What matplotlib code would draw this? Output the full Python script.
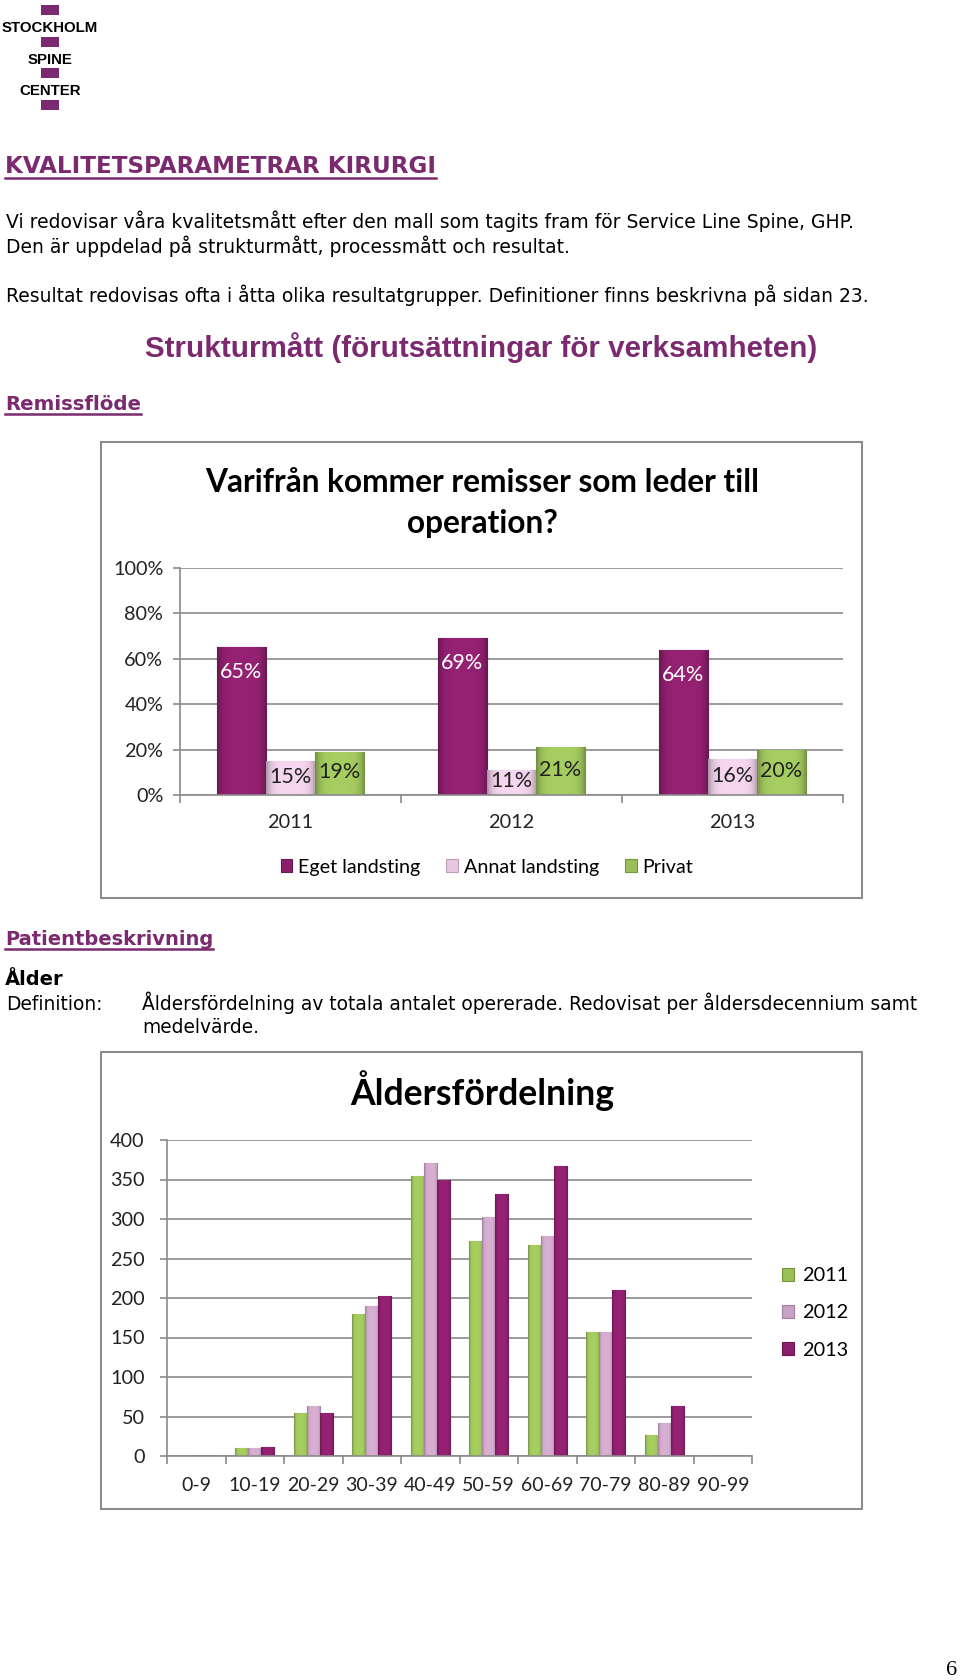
import matplotlib
matplotlib.use("Agg")
import matplotlib.pyplot as plt
from matplotlib.patches import Rectangle
from matplotlib.lines import Line2D
from matplotlib.colors import to_rgb
import numpy as np

W, H = 960, 1680

# chart 1: referral source
years = ["2011", "2012", "2013"]
eget = [65, 69, 64]
annat = [15, 11, 16]
privat = [19, 21, 20]
pct_ticks = [0, 20, 40, 60, 80, 100]

# chart 2: age distribution
age_groups = ["0-9", "10-19", "20-29", "30-39", "40-49", "50-59",
              "60-69", "70-79", "80-89", "90-99"]
age_2011 = [0, 10, 54, 180, 354, 272, 267, 157, 27, 0]
age_2012 = [0, 10, 63, 190, 371, 303, 278, 157, 42, 0]
age_2013 = [0, 12, 54, 203, 349, 332, 367, 210, 63, 0]
count_ticks = [0, 50, 100, 150, 200, 250, 300, 350, 400]

PURPLE = "#7b2a70"
C_EGET = "#8c1f6c"
C_ANNAT = "#e6c8e0"
C_PRIV = "#9bc05a"
C_2012 = "#c9a3c3"
GRID = "#8a8a8a"
CH = ["Lato", "DejaVu Sans"]

plt.rcParams["font.family"] = ["DejaVu Sans"]

fig = plt.figure(figsize=(W / 100, H / 100), dpi=100)
fig.patch.set_facecolor("white")


def fx(x):
    return x / W


def fy(y):
    return 1 - y / H


def txt(x, y, s, **kw):
    kw.setdefault("va", "baseline")
    return fig.text(fx(x), fy(y), s, **kw)


def underline(t, y, color):
    r = fig.canvas.get_renderer()
    bb = t.get_window_extent(r)
    fig.add_artist(Line2D([bb.x0 / W, bb.x1 / W], [fy(y), fy(y)],
                          transform=fig.transFigure, color=color, lw=1.8))


def shade(ax, bars, color):
    # soft cylinder-like shading, darker toward the bar edges
    t = np.linspace(-1, 1, 40)
    f = 1.07 - 0.32 * np.abs(t) ** 5
    img = np.clip(np.array(to_rgb(color))[None, None, :] * f[None, :, None], 0, 1)
    for b in bars:
        h = b.get_height()
        if h <= 0:
            continue
        x0 = b.get_x()
        im = ax.imshow(img, extent=[x0, x0 + b.get_width(), 0, h],
                       aspect="auto", zorder=2.1, interpolation="bilinear")
        im.set_clip_path(b)


# logo
for y0 in [5, 37, 68, 100]:
    fig.add_artist(Rectangle((fx(41), fy(y0 + 10)), 18 / W, 10 / H,
                             transform=fig.transFigure, color=PURPLE, lw=0))
for s, yb in [("STOCKHOLM", 32), ("SPINE", 64), ("CENTER", 95)]:
    txt(50, yb, s, ha="center", fontsize=10.8, fontweight="bold",
        family=["Liberation Sans"])

# page text
t = txt(5, 173, "KVALITETSPARAMETRAR KIRURGI", fontsize=16.6,
        fontweight="bold", color=PURPLE)
underline(t, 178, PURPLE)
txt(6, 228, "Vi redovisar våra kvalitetsmått efter den mall som tagits fram för Service Line Spine, GHP.", fontsize=13.5)
txt(6, 253, "Den är uppdelad på strukturmått, processmått och resultat.", fontsize=13.5)
txt(6, 302, "Resultat redovisas ofta i åtta olika resultatgrupper. Definitioner finns beskrivna på sidan 23.", fontsize=13.5)
txt(481, 357, "Strukturmått (förutsättningar för verksamheten)", ha="center",
    fontsize=21.3, fontweight="bold", color=PURPLE, family=["Liberation Sans"])
t = txt(5, 410, "Remissflöde", fontsize=14.2, fontweight="bold", color=PURPLE)
underline(t, 414, PURPLE)
t = txt(5, 945, "Patientbeskrivning", fontsize=14, fontweight="bold", color=PURPLE)
underline(t, 949, PURPLE)
txt(5, 985, "Ålder", fontsize=14, fontweight="bold")
txt(6, 1010, "Definition:", fontsize=13.4)
txt(142, 1010, "Åldersfördelning av totala antalet opererade. Redovisat per åldersdecennium samt", fontsize=13.4)
txt(142, 1033, "medelvärde.", fontsize=13.4)
txt(946, 1675, "6", fontsize=16, family=["Liberation Serif"])

# chart frames
for top, bot in [(442, 898), (1052, 1509)]:
    fig.add_artist(Rectangle((fx(101), fy(bot)), 761 / W, (bot - top) / H,
                             transform=fig.transFigure, fill=False,
                             edgecolor="#8c8c8c", lw=1.5))


def style_axes(ax, size):
    for side in ["top", "right"]:
        ax.spines[side].set_visible(False)
    for side in ["left", "bottom"]:
        ax.spines[side].set_color(GRID)
        ax.spines[side].set_linewidth(1.2)
    ax.yaxis.grid(True, color=GRID, lw=1.2)
    ax.set_axisbelow(True)
    ax.tick_params(axis="y", colors=GRID, labelcolor="#222222", length=5,
                   width=1.2, labelsize=size)
    ax.tick_params(axis="x", which="major", length=0, labelcolor="#222222",
                   labelsize=size)
    ax.tick_params(axis="x", which="minor", length=6, width=1.2, colors=GRID)
    for lab in ax.get_xticklabels() + ax.get_yticklabels():
        lab.set_family(CH)


# chart 1
ax1 = fig.add_axes([fx(180), fy(795), 663 / W, 227 / H])
x = np.arange(len(years))
bw = 0.222
b_e = ax1.bar(x - bw, eget, bw, color=C_EGET, edgecolor="#6a1450", lw=0.8, label="Eget landsting")
b_a = ax1.bar(x, annat, bw, color=C_ANNAT, edgecolor="#bf9db8", lw=0.8, label="Annat landsting")
b_p = ax1.bar(x + bw, privat, bw, color=C_PRIV, edgecolor="#739638", lw=0.8, label="Privat")
shade(ax1, b_e, C_EGET)
shade(ax1, b_a, C_ANNAT)
shade(ax1, b_p, C_PRIV)
for xi, v in zip(x - bw, eget):
    ax1.text(xi, v - 11, f"{v}%", ha="center", va="center", color="white",
             fontsize=15.5, family=CH, zorder=4)
for off, vals in [(0, annat), (bw, privat)]:
    for xi, v in zip(x + off, vals):
        ax1.text(xi, v / 2 + 0.5, f"{v}%", ha="center", va="center",
                 color="#222222", fontsize=15.5, family=CH, zorder=4)
ax1.set_xlim(-0.5, 2.5)
ax1.set_ylim(0, 100)
ax1.set_yticks(pct_ticks, [f"{p}%" for p in pct_ticks])
ax1.set_xticks(x, years)
ax1.set_xticks(np.arange(len(years) + 1) - 0.5, minor=True)
style_axes(ax1, 14.3)
ax1.tick_params(axis="x", which="major", pad=14)
ax1.tick_params(axis="y", pad=7)
txt(482, 492, "Varifrån kommer remisser som leder till", ha="center",
    fontsize=22.8, fontweight="bold", family=CH)
txt(482, 533, "operation?", ha="center", fontsize=22.8, fontweight="bold", family=CH)
ax1.legend(handles=[b_e, b_a, b_p], loc="center", ncol=3, frameon=False,
           bbox_to_anchor=(fx(487), fy(867)), bbox_transform=fig.transFigure,
           prop={"family": CH, "size": 14.2}, handlelength=0.6,
           handleheight=0.6, handletextpad=0.3, columnspacing=1.3)

# chart 2
ax2 = fig.add_axes([fx(167), fy(1456), 585 / W, 316 / H])
x = np.arange(len(age_groups))
bw = 0.225
s1 = ax2.bar(x - bw, age_2011, bw, color=C_PRIV, edgecolor="#739638", lw=0.8, label="2011")
s2 = ax2.bar(x, age_2012, bw, color=C_2012, edgecolor="#a27e9c", lw=0.8, label="2012")
s3 = ax2.bar(x + bw, age_2013, bw, color=C_EGET, edgecolor="#6a1450", lw=0.8, label="2013")
shade(ax2, s1, C_PRIV)
shade(ax2, s2, C_2012)
shade(ax2, s3, C_EGET)
ax2.set_xlim(-0.5, len(age_groups) - 0.5)
ax2.set_ylim(0, 400)
ax2.set_yticks(count_ticks)
ax2.set_xticks(x, age_groups)
ax2.set_xticks(np.arange(len(age_groups) + 1) - 0.5, minor=True)
style_axes(ax2, 14.3)
for lab in ax2.get_xticklabels():
    lab.set_fontsize(14)
ax2.tick_params(axis="x", which="major", pad=15)
ax2.tick_params(axis="y", pad=11)
txt(482, 1105, "Åldersfördelning", ha="center", fontsize=25.7,
    fontweight="bold", family=CH)
ax2.legend(handles=[s1, s2, s3], loc="center left", frameon=False,
           bbox_to_anchor=(fx(764), fy(1313)), bbox_transform=fig.transFigure,
           prop={"family": CH, "size": 14.3}, handlelength=0.6,
           handleheight=0.6, handletextpad=0.4, labelspacing=1.02)

fig.savefig("out.png", dpi=100)
